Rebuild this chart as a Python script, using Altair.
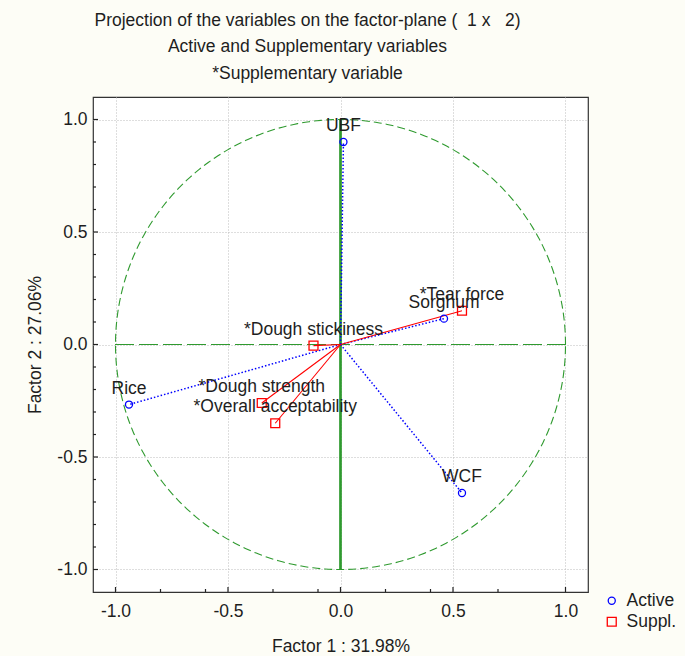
import altair as alt
import pandas as pd
import numpy as np

# ---- data ----
active_names = ["UBF", "Sorghum", "Rice", "WCF"]
active_f1 = [0.013, 0.46, -0.94, 0.54]
active_f2 = [0.90, 0.115, -0.267, -0.66]

supp_names = ["*Tear force", "*Dough stickiness", "*Dough strength", "*Overall acceptability"]
supp_f1 = [0.54, -0.12, -0.35, -0.29]
supp_f2 = [0.15, -0.005, -0.26, -0.35]

kinds = ["Active", "Suppl."]

major_ticks = [-1.0, -0.5, 0.0, 0.5, 1.0]
x_minor_ticks = [-0.8, -0.6, -0.3, -0.1, 0.2, 0.4, 0.7]
y_minor_ticks = [-0.9, -0.8, -0.7, -0.6, -0.4, -0.3, -0.2, -0.1,
                 0.1, 0.2, 0.3, 0.4, 0.6, 0.7, 0.8, 0.9]

NB = "\u00a0"
title_lines = ["Projection of the variables on the factor-plane (" + NB * 2 + "1 x" + NB * 3 + "2)",
               "Active and Supplementary variables",
               "*Supplementary variable"]
x_title = "Factor 1 : 31.98%"
y_title = "Factor 2 : 27.06%"

FONT = "Liberation Sans"
FS = 17.5
GREEN = "#2f9a2f"
BLUE = "#0000ff"
RED = "#ff0000"
TXT = "#1e1e1e"
LO, HI = -1.1, 1.1

pts = pd.DataFrame({
    "name": active_names + supp_names,
    "f1": active_f1 + supp_f1,
    "f2": active_f2 + supp_f2,
    "kind": [kinds[0]] * len(active_names) + [kinds[1]] * len(supp_names),
})
pts["z"] = 0.0

# unit correlation circle (geometric reference)
ang = np.linspace(0, 2 * np.pi, 361)
circ = pd.DataFrame({"cx": np.cos(ang), "cy": np.sin(ang), "i": np.arange(361)})

xs = alt.Scale(domain=[LO, HI], nice=False, zero=False)
ys = alt.Scale(domain=[LO, HI], nice=False, zero=False)

lab_expr = "datum.value < 0 ? '-' + format(-datum.value, '.1f') : format(datum.value, '.1f')"

xaxis = alt.Axis(values=major_ticks, labelExpr=lab_expr, title=x_title, ticks=False, domain=False,
                 grid=True, gridDash=[1, 2], gridColor="#bdbdbd", gridWidth=1,
                 labelFont=FONT, labelFontSize=FS, labelColor=TXT, labelPadding=10,
                 titleFont=FONT, titleFontSize=FS, titleFontWeight="normal", titleColor=TXT,
                 titlePadding=18)
yaxis = alt.Axis(values=major_ticks, labelExpr=lab_expr, title=y_title, ticks=False, domain=False,
                 grid=True, gridDash=[1, 2], gridColor="#bdbdbd", gridWidth=1,
                 labelFont=FONT, labelFontSize=FS, labelColor=TXT, labelPadding=6,
                 titleFont=FONT, titleFontSize=FS, titleFontWeight="normal", titleColor=TXT,
                 titlePadding=12)

base_pts = alt.Chart(pts)

circle = alt.Chart(circ).mark_line(color=GREEN, strokeDash=[8, 4], strokeWidth=1.1).encode(
    x=alt.X("cx:Q", scale=xs, axis=xaxis),
    y=alt.Y("cy:Q", scale=ys, axis=yaxis),
    order="i:Q",
)

hline = alt.Chart(pts).mark_rule(color=GREEN, strokeDash=[18, 6], strokeWidth=1.1).encode(
    x=alt.datum(-1.0), x2=alt.datum(1.0), y=alt.datum(0.0)
)
vline = alt.Chart(pts).mark_rule(color=GREEN, strokeWidth=1.4).encode(
    x=alt.datum(0.0), y=alt.datum(-1.0), y2=alt.datum(1.0)
)

act_lines = base_pts.transform_filter(alt.datum.kind == kinds[0]).mark_rule(
    color=BLUE, strokeDash=[1.5, 2], strokeWidth=1.5
).encode(x="z:Q", y="z:Q", x2="f1:Q", y2="f2:Q")

sup_lines = base_pts.transform_filter(alt.datum.kind == kinds[1]).mark_rule(
    color=RED, strokeWidth=1.1
).encode(x="z:Q", y="z:Q", x2="f1:Q", y2="f2:Q")

points = base_pts.mark_point(filled=False, strokeWidth=1.3, opacity=1).encode(
    x="f1:Q", y="f2:Q",
    color=alt.Color("kind:N", scale=alt.Scale(domain=kinds, range=[BLUE, RED]),
                    legend=alt.Legend(title=None, orient="none", legendX=510, legendY=495,
                                      labelFont=FONT, labelFontSize=FS, labelColor=TXT,
                                      symbolStrokeWidth=1.3, symbolSize=70, rowPadding=2,
                                      labelOffset=6)),
    shape=alt.Shape("kind:N", scale=alt.Scale(domain=kinds, range=["circle", "square"])),
    size=alt.Size("kind:N", scale=alt.Scale(domain=kinds, range=[50, 80]), legend=None),
)

labels = base_pts.mark_text(font=FONT, fontSize=FS, color=TXT, dy=-16, baseline="middle").encode(
    x="f1:Q", y="f2:Q", text="name:N"
)

# inward ticks
tick_major = 5 / 225.0
tick_minor = 3 / 225.0
xt = pd.DataFrame({"v": major_ticks + x_minor_ticks,
                   "len": [tick_major] * len(major_ticks) + [tick_minor] * len(x_minor_ticks)})
xt["b"] = LO
xt["e"] = LO + xt["len"]
yt = pd.DataFrame({"v": major_ticks + y_minor_ticks,
                   "len": [tick_major] * len(major_ticks) + [tick_minor] * len(y_minor_ticks)})
yt["b"] = LO
yt["e"] = LO + yt["len"]

xticks = alt.Chart(xt).mark_rule(color="#222", strokeWidth=1.2).encode(
    x="v:Q", y="b:Q", y2="e:Q")
yticks = alt.Chart(yt).mark_rule(color="#222", strokeWidth=1.2).encode(
    y="v:Q", x="b:Q", x2="e:Q")

chart = alt.layer(circle, hline, vline, act_lines, sup_lines, xticks, yticks, points, labels).properties(
    width=495, height=495,
    autosize=alt.AutoSizeParams(type="none"),
    padding={"left": 93, "top": 97, "right": 97, "bottom": 64},
    title=alt.TitleParams(text=title_lines, font=FONT, fontSize=FS, fontWeight="normal",
                          color=TXT, lineHeight=26.5, offset=15, dx=-33, anchor="middle"),
).configure(background="#fdfdf6").configure_view(fill="white", stroke="#333", strokeWidth=1.2)

chart.save("out.html", embed_options={"renderer": "svg", "actions": False})
